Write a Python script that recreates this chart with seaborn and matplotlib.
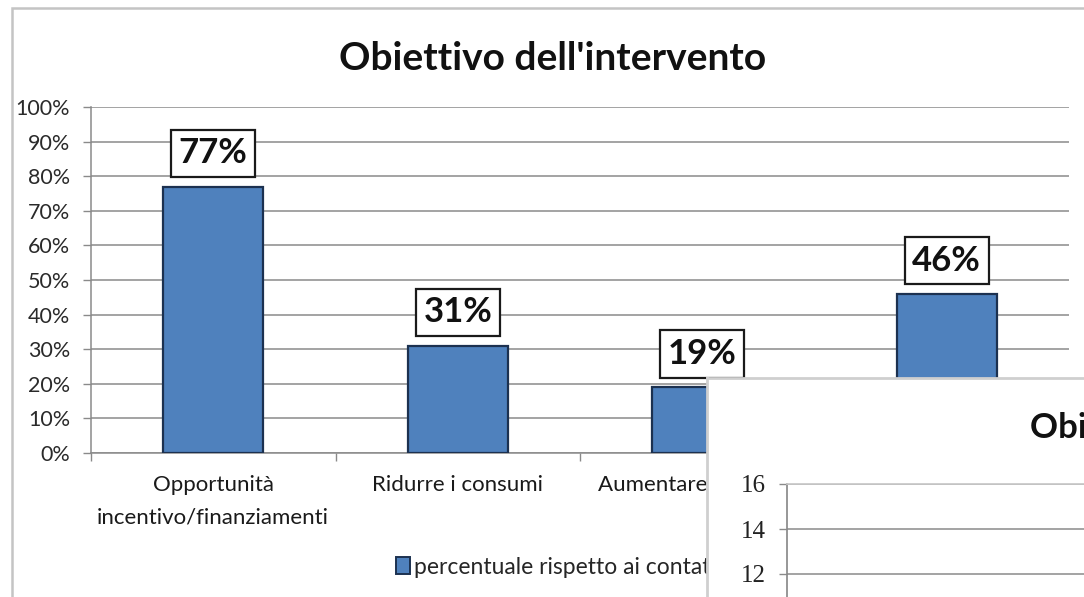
import matplotlib
matplotlib.use("Agg")
import matplotlib.pyplot as plt
from matplotlib.patches import Rectangle, Patch
from matplotlib.ticker import FuncFormatter, FixedLocator
import pandas as pd
import seaborn as sns

# --- data -------------------------------------------------------------
categorie = [
    "Opportunità\nincentivo/finanziamenti",
    "Ridurre i consumi",
    "Aumentare il comfort",
    "Valorizzare l'immobile",
]
percentuali = [77, 31, 19, 46]
titolo = "Obiettivo dell'intervento"
etichetta_serie = "percentuale rispetto ai contatti"
tick_percentuali = list(range(0, 101, 10))
tick_secondo = [12, 14, 16]

df = pd.DataFrame({"categoria": categorie, "percentuale": percentuali})

# --- style ------------------------------------------------------------
sns.set_theme(style="white")
plt.rcParams["font.family"] = ["Lato", "DejaVu Sans"]

W, H = 1084, 597
fig = plt.figure(figsize=(W / 100, H / 100), dpi=100, facecolor="white")


def fx(px):
    return px / W


def fy(py):
    return 1 - py / H


BAR = "#4F81BD"
BAR_EDGE = "#1c3150"
GRID = "#8a8a8a"

# outer frame of the chart area
fig.add_artist(Rectangle((fx(12), -0.2), 1.3, fy(8) + 0.2, transform=fig.transFigure,
                         fill=False, ec="#c4c4c4", lw=1.8, zorder=0))

# --- main bar chart ---------------------------------------------------
ax = fig.add_axes([fx(91), fy(453), fx(1069) - fx(91), fy(107) - fy(453)], zorder=1)
ax.set_facecolor("none")
sns.barplot(data=df, x="categoria", y="percentuale", color=BAR, width=0.41,
            edgecolor=BAR_EDGE, linewidth=1.6, saturation=1, ax=ax, zorder=3)

ax.set_xlim(-0.5, len(categorie) - 0.5)
ax.set_ylim(0, 100)
ax.set_yticks(tick_percentuali)
ax.yaxis.set_major_formatter(FuncFormatter(lambda v, _: f"{int(v)}%"))
ax.set_xlabel("")
ax.set_ylabel("")
ax.grid(axis="y", color=GRID, lw=1.1)
ax.set_axisbelow(True)
for s in ["top", "right"]:
    ax.spines[s].set_visible(False)
for s in ["left", "bottom"]:
    ax.spines[s].set_color(GRID)
    ax.spines[s].set_linewidth(1.1)

ax.tick_params(axis="y", which="major", left=True, length=6, width=1, color=GRID,
               pad=9, labelsize=15.5, labelcolor="#2a2a2a")
ax.tick_params(axis="x", which="major", bottom=False, length=0, pad=16,
               labelsize=16, labelcolor="#1a1a1a")
ax.xaxis.set_minor_locator(FixedLocator([i + 0.5 for i in range(-1, len(categorie))]))
ax.tick_params(axis="x", which="minor", bottom=True, length=6, width=1, color=GRID)
for lab in ax.get_xticklabels():
    lab.set_multialignment("center")
    lab.set_verticalalignment("top")
    lab.set_linespacing(1.75)

# value labels in boxes
for i, v in enumerate(percentuali):
    ax.annotate(f"{v}%", xy=(i, v), xytext=(0, 24), textcoords="offset points",
                ha="center", va="center", fontsize=25, fontweight="bold", color="#111111",
                bbox=dict(boxstyle="square,pad=0.22", fc="white", ec="#1a1a1a", lw=1.6),
                zorder=5)

fig.text(fx(553), fy(70), titolo, ha="center", va="baseline",
         fontsize=28, fontweight="bold", color="#111111")

fig.legend(handles=[Patch(fc=BAR, ec=BAR_EDGE, lw=1.4)], labels=[etichetta_serie],
           loc="center left", bbox_to_anchor=(fx(396), fy(567)), frameon=False,
           fontsize=16.5, handlelength=0.6, handleheight=0.7, handletextpad=0.2,
           borderaxespad=0, borderpad=0)

# --- second chart window lying on top ----------------------------------
panel = fig.add_axes([fx(707), fy(378) - 0.8, 0.6, 0.8], zorder=10)
panel.set_facecolor("white")
panel.set_xticks([])
panel.set_yticks([])
for s in ["right", "bottom"]:
    panel.spines[s].set_visible(False)
for s in ["top", "left"]:
    panel.spines[s].set_color("#cfcfcf")
    panel.spines[s].set_linewidth(2.0)

# inner plot: 2 units = 45 px, cut by the lower edge of the figure
ax2 = fig.add_axes([fx(787), 0, 0.5, fy(484)], zorder=11)
ax2.set_facecolor("none")
ax2.set_ylim(16 - (H - 484) / 22.5, 16)
ax2.set_yticks(tick_secondo)
ax2.set_xticks([])
ax2.grid(axis="y", color=GRID, lw=1.1)
for s in ["right", "bottom"]:
    ax2.spines[s].set_visible(False)
ax2.spines["top"].set_color("#c8c8c8")
ax2.spines["left"].set_color(GRID)
ax2.tick_params(axis="y", left=True, length=6, width=1, color=GRID, pad=9,
                labelcolor="#222222")
for lab in ax2.get_yticklabels():
    lab.set_fontfamily("Liberation Serif")
    lab.set_fontsize(18)

fig.text(fx(1030), fy(438), titolo, ha="left", va="baseline", fontsize=25,
         fontweight="bold", color="#111111", zorder=12)

fig.savefig("out.png", dpi=100, facecolor="white")
